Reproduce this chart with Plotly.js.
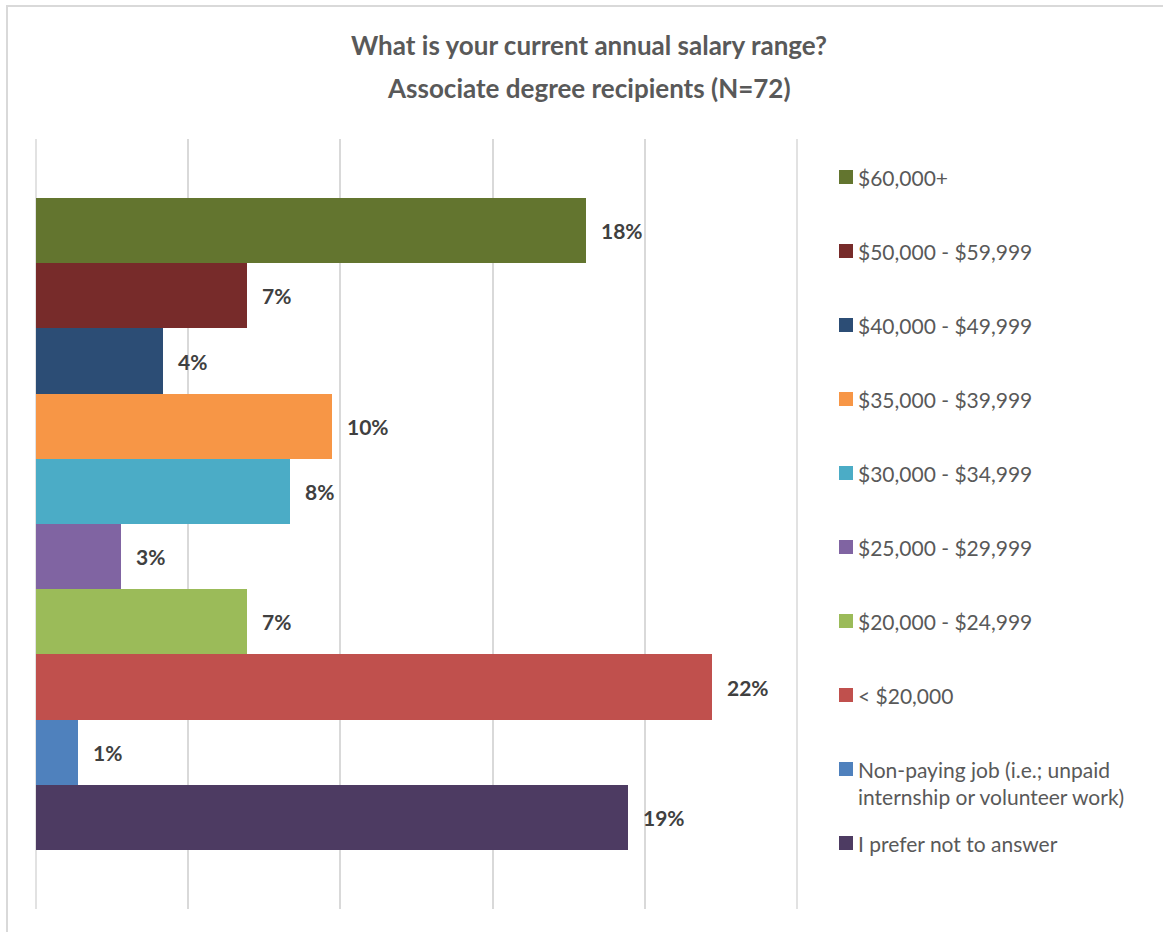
<!DOCTYPE html>
<html>
<head>
<meta charset="utf-8">
<script src="https://cdn.plot.ly/plotly-3.0.1.min.js"></script>
<style>
  html, body { margin: 0; padding: 0; background: #ffffff; }
  #wrap { position: relative; width: 1163px; height: 932px; overflow: hidden; }
  #chart { position: absolute; left: 0; top: 0; width: 1163px; height: 932px; }
  #frame { position: absolute; left: 6px; top: 5px; width: 1300px; height: 1100px;
           border-left: 2px solid #d9d9d9; border-top: 2px solid #d9d9d9; pointer-events: none; }
</style>
</head>
<body>
<div id="wrap">
  <div id="chart"></div>
  <div id="frame"></div>
</div>
<script>
// ---- data ----
const categories = [
  "$60,000+",
  "$50,000 - $59,999",
  "$40,000 - $49,999",
  "$35,000 - $39,999",
  "$30,000 - $34,999",
  "$25,000 - $29,999",
  "$20,000 - $24,999",
  "< $20,000",
  "Non-paying job (i.e.; unpaid<br>internship or volunteer work)",
  "I prefer not to answer"
];
const values = [18.06, 6.94, 4.17, 9.72, 8.33, 2.78, 6.94, 22.22, 1.39, 19.44];
const valueLabels = ["18%", "7%", "4%", "10%", "8%", "3%", "7%", "22%", "1%", "19%"];
const colors = [
  "#63752F", "#772B2A", "#2C4D75", "#F79646", "#4BACC6",
  "#8064A2", "#9BBB59", "#C0504D", "#4F81BD", "#4D3B62"
];
const axisMin = 0, axisMax = 25, axisStep = 5;
const titleLine1 = "What is your current annual salary range?";
const titleLine2 = "Associate degree recipients (N=72)";

// ---- layout geometry ----
const W = 1163, H = 932;
const M = { l: 35, r: W - 798, t: 139, b: H - 909 };
const PW = W - M.l - M.r, PH = H - M.t - M.b;
const px2x = p => (p - M.l) / PW;
const py2y = p => (H - M.b - p) / PH;

const FONT = "Lato, 'Open Sans', 'DejaVu Sans', sans-serif";
const GRID = "#d9d9d9";

const trace = {
  type: "bar",
  orientation: "h",
  x: values,
  y: categories,
  marker: { color: colors, line: { width: 0 } },
  hovertemplate: "%{y}: %{x:.1f}%<extra></extra>",
  showlegend: false
};

const annotations = [];
// data labels
for (let i = 0; i < categories.length; i++) {
  annotations.push({
    x: values[i], y: categories[i], xref: "x", yref: "y",
    text: "<b>" + valueLabels[i] + "</b>",
    showarrow: false, xanchor: "left", yanchor: "middle", xshift: 13,
    font: { family: FONT, size: 21, color: "#404040" }
  });
}
// second title line
annotations.push({
  x: px2x(589), y: py2y(88), xref: "paper", yref: "paper",
  text: "<b>" + titleLine2 + "</b>", showarrow: false,
  xanchor: "center", yanchor: "middle",
  font: { family: FONT, size: 26, color: "#595959" }
});

const shapes = [];
// edge gridlines (Plotly drops gridlines at the plot edges)
[axisMin, axisMax].forEach(v => shapes.push({
  type: "line", xref: "x", yref: "paper", x0: v, x1: v, y0: 0, y1: 1,
  line: { color: GRID, width: 1.5 }, layer: "below"
}));

// manual legend (squares + text)
const legTop = 177, legStep = 74, legFont = 21, legLine = 27.3;
for (let i = 0; i < categories.length; i++) {
  const cy = legTop + legStep * i;
  shapes.push({
    type: "rect", xref: "paper", yref: "paper",
    x0: px2x(839), x1: px2x(853), y0: py2y(cy - 7), y1: py2y(cy + 7),
    fillcolor: colors[i], line: { width: 0 }
  });
  const nLines = categories[i].split("<br>").length;
  annotations.push({
    x: px2x(856), y: py2y(cy + (nLines - 1) * legLine / 2), xref: "paper", yref: "paper",
    text: categories[i], showarrow: false, align: "left",
    xanchor: "left", yanchor: "middle",
    font: { family: FONT, size: legFont, color: "#595959" }
  });
}

const layout = {
  width: W, height: H,
  margin: M,
  paper_bgcolor: "#ffffff",
  plot_bgcolor: "#ffffff",
  showlegend: false,
  bargap: 0,
  title: {
    text: "<b>" + titleLine1 + "</b>",
    x: 589 / W, xref: "container", xanchor: "center",
    y: 1 - 46 / H, yref: "container", yanchor: "middle",
    font: { family: FONT, size: 26, color: "#595959" }
  },
  xaxis: {
    range: [axisMin - 1 / 30.44, axisMax + 1 / 30.44], dtick: axisStep, tick0: axisMin, tickmode: "linear",
    showgrid: true, gridcolor: GRID, gridwidth: 1.5,
    zeroline: false, showline: false, showticklabels: false, ticks: "",
    fixedrange: true
  },
  yaxis: {
    type: "category",
    range: [10.405, -1.405],
    showgrid: false, zeroline: false, showline: false,
    showticklabels: false, ticks: "", fixedrange: true
  },
  annotations: annotations,
  shapes: shapes,
  font: { family: FONT }
};

Plotly.newPlot("chart", [trace], layout, { displayModeBar: false });
</script>
</body>
</html>
